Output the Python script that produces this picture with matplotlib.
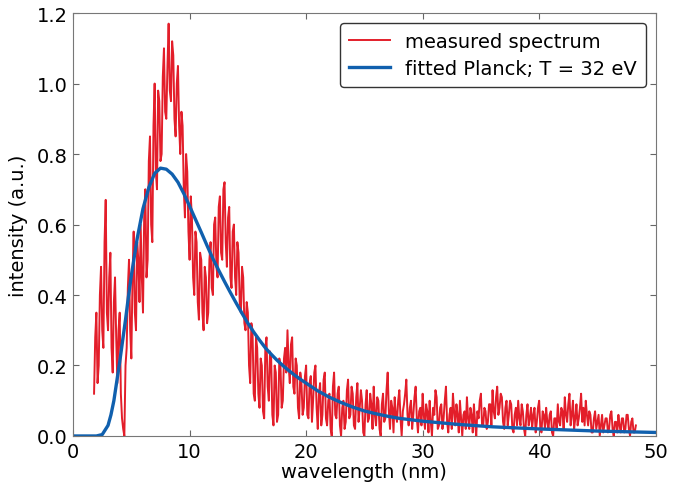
import numpy as np
import matplotlib
matplotlib.use("Agg")
import matplotlib.pyplot as plt

wl_start = 1.8
wl_step = 0.1
measured = [
    0.12, 0.28, 0.35, 0.15, 0.20, 0.40, 0.48, 0.30, 0.25, 0.55, 0.67, 0.35, 0.30, 0.45, 0.52, 0.25, 0.18, 0.38, 0.45, 0.28,  # 1.8
    0.15, 0.30, 0.35, 0.12, 0.05, 0.02, 0.00, 0.20, 0.25, 0.42, 0.50, 0.30, 0.22, 0.45, 0.58, 0.35, 0.30, 0.55, 0.50, 0.38,  # 3.8
    0.60, 0.45, 0.35, 0.62, 0.70, 0.45, 0.50, 0.78, 0.85, 0.60, 0.55, 0.88, 1.00, 0.75, 0.70, 0.98, 0.95, 0.78, 0.80, 1.02,  # 5.8
    1.10, 0.92, 0.90, 1.05, 1.17, 0.98, 0.95, 1.12, 1.08, 0.90, 0.85, 1.00, 1.05, 0.88, 0.80, 0.92, 0.88, 0.70, 0.62, 0.80,  # 7.8
    0.75, 0.58, 0.50, 0.68, 0.62, 0.45, 0.40, 0.58, 0.55, 0.38, 0.33, 0.52, 0.50, 0.35, 0.30, 0.48, 0.45, 0.32, 0.35, 0.50,  # 9.8
    0.55, 0.42, 0.40, 0.60, 0.62, 0.48, 0.45, 0.65, 0.68, 0.52, 0.50, 0.70, 0.72, 0.55, 0.48, 0.62, 0.65, 0.45, 0.42, 0.58,  # 11.8
    0.60, 0.45, 0.40, 0.55, 0.52, 0.38, 0.35, 0.48, 0.45, 0.32, 0.30, 0.38, 0.35, 0.20, 0.15, 0.32, 0.30, 0.12, 0.10, 0.28,  # 13.8
    0.25, 0.12, 0.08, 0.22, 0.20, 0.07, 0.05, 0.25, 0.28, 0.14, 0.10, 0.24, 0.22, 0.06, 0.03, 0.20, 0.18, 0.04, 0.06, 0.22,  # 15.8
    0.20, 0.08, 0.10, 0.22, 0.25, 0.18, 0.30, 0.20, 0.15, 0.26, 0.28, 0.14, 0.12, 0.22, 0.20, 0.08, 0.05, 0.18, 0.15, 0.06,  # 17.8
    0.08, 0.17, 0.20, 0.06, 0.05, 0.15, 0.17, 0.04, 0.10, 0.18, 0.20, 0.08, 0.02, 0.12, 0.15, 0.03, 0.06, 0.16, 0.18, 0.05,  # 19.8
    0.03, 0.10, 0.12, 0.02, 0.00, 0.14, 0.18, 0.06, 0.05, 0.12, 0.14, 0.03, 0.00, 0.08, 0.10, 0.02, 0.04, 0.13, 0.16, 0.05,  # 21.8
    0.06, 0.14, 0.12, 0.03, 0.02, 0.11, 0.15, 0.04, 0.08, 0.13, 0.10, 0.01, 0.00, 0.09, 0.13, 0.04, 0.05, 0.12, 0.09, 0.02,  # 23.8
    0.14, 0.06, 0.03, 0.11, 0.10, 0.02, 0.00, 0.09, 0.12, 0.04, 0.05, 0.13, 0.18, 0.07, 0.02, 0.10, 0.08, 0.01, 0.11, 0.06,  # 25.8
    0.04, 0.10, 0.13, 0.05, 0.00, 0.07, 0.09, 0.12, 0.16, 0.06, 0.03, 0.08, 0.10, 0.02, 0.06, 0.11, 0.14, 0.05, 0.01, 0.07,  # 27.8
    0.08, 0.03, 0.12, 0.06, 0.02, 0.09, 0.07, 0.01, 0.10, 0.04, 0.00, 0.08, 0.06, 0.13, 0.11, 0.02, 0.03, 0.08, 0.09, 0.02,  # 29.8
    0.05, 0.10, 0.14, 0.04, 0.01, 0.06, 0.08, 0.02, 0.12, 0.07, 0.03, 0.09, 0.06, 0.01, 0.10, 0.05, 0.00, 0.06, 0.07, 0.02,  # 31.8
    0.11, 0.05, 0.02, 0.08, 0.06, 0.01, 0.09, 0.04, 0.00, 0.07, 0.05, 0.10, 0.12, 0.03, 0.03, 0.08, 0.07, 0.02, 0.04, 0.09,  # 33.8
    0.09, 0.03, 0.13, 0.07, 0.05, 0.11, 0.14, 0.06, 0.08, 0.12, 0.11, 0.04, 0.02, 0.08, 0.10, 0.03, 0.06, 0.10, 0.09, 0.02,  # 35.8
    0.01, 0.06, 0.08, 0.03, 0.10, 0.05, 0.03, 0.09, 0.07, 0.02, 0.00, 0.06, 0.09, 0.03, 0.05, 0.08, 0.02, 0.06, 0.08, 0.01,  # 37.8
    0.04, 0.08, 0.10, 0.02, 0.01, 0.07, 0.06, 0.02, 0.08, 0.04, 0.02, 0.06, 0.07, 0.01, 0.00, 0.05, 0.05, 0.02, 0.09, 0.04,  # 39.8
    0.03, 0.08, 0.07, 0.02, 0.11, 0.06, 0.04, 0.09, 0.12, 0.03, 0.06, 0.10, 0.02, 0.05, 0.09, 0.03, 0.05, 0.08, 0.12, 0.04,  # 41.8
    0.08, 0.03, 0.10, 0.06, 0.03, 0.07, 0.06, 0.01, 0.01, 0.05, 0.07, 0.02, 0.04, 0.06, 0.00, 0.03, 0.06, 0.01, 0.03, 0.05,  # 43.8
    0.05, 0.01, 0.02, 0.06, 0.07, 0.02, 0.00, 0.04, 0.04, 0.01, 0.06, 0.03, 0.01, 0.05, 0.05, 0.01, 0.02, 0.06, 0.06, 0.02,  # 45.8
    0.00, 0.04, 0.05, 0.01, 0.01, 0.03,                                                                                      # 47.8
]
wl = wl_start + wl_step * np.arange(len(measured))

# fitted Planck curve
fit_wl = [0, 1, 2, 2.5, 3, 3.25, 3.5, 3.75, 4, 4.25, 4.5, 4.75, 5, 5.5, 6, 6.5, 7, 7.5,
          8, 8.5, 9, 9.5, 10, 10.5, 11, 11.5, 12, 12.5, 13, 13.5, 14, 14.5, 15, 15.5,
          16, 16.5, 17, 17.5, 18, 18.5, 19, 19.5, 20, 21, 22, 23, 24, 25, 26, 27, 28,
          30, 33, 36, 40, 45, 50]
fit_int = [0, 0, 0, 0.004, 0.03, 0.06, 0.10, 0.155, 0.21, 0.27, 0.33, 0.395, 0.455, 0.56,
           0.645, 0.705, 0.745, 0.76, 0.757, 0.743, 0.72, 0.688, 0.652, 0.615, 0.578,
           0.54, 0.503, 0.47, 0.438, 0.407, 0.377, 0.348, 0.32, 0.295, 0.272, 0.25,
           0.232, 0.215, 0.2, 0.186, 0.173, 0.161, 0.15, 0.128, 0.11, 0.095, 0.082,
           0.071, 0.063, 0.056, 0.05, 0.042, 0.033, 0.026, 0.02, 0.014, 0.01]

fig = plt.figure(figsize=(6.83, 4.85), dpi=100)
ax = fig.add_axes([0.107, 0.099, 0.853, 0.872])

ax.plot(wl, measured, color='#e31e2a', linewidth=1.4, label='measured spectrum')
ax.plot(fit_wl, fit_int, color='#1060ae', linewidth=2.4, label='fitted Planck; T = 32 eV')

ax.set_xlim(0, 50)
ax.set_ylim(0, 1.2)
ax.set_xticks([0, 10, 20, 30, 40, 50])
ax.set_yticks([0.0, 0.2, 0.4, 0.6, 0.8, 1.0, 1.2])
ax.set_yticklabels(['0.0', '0.2', '0.4', '0.6', '0.8', '1.0', '1.2'])
ax.tick_params(direction='in', top=True, right=True, length=4, width=0.8,
               color='#666666', labelsize=14, pad=4)
for s in ax.spines.values():
    s.set_color('#777777')

ax.set_xlabel('wavelength (nm)', fontsize=14, labelpad=1)
ax.set_ylabel('intensity (a.u.)', fontsize=14, labelpad=6)

leg = ax.legend(loc='upper right', fontsize=14, fancybox=True, framealpha=1,
                borderpad=0.45, handlelength=2.1, labelspacing=0.45)
leg.get_frame().set_edgecolor('#333333')

fig.savefig('out.png', dpi=100)
